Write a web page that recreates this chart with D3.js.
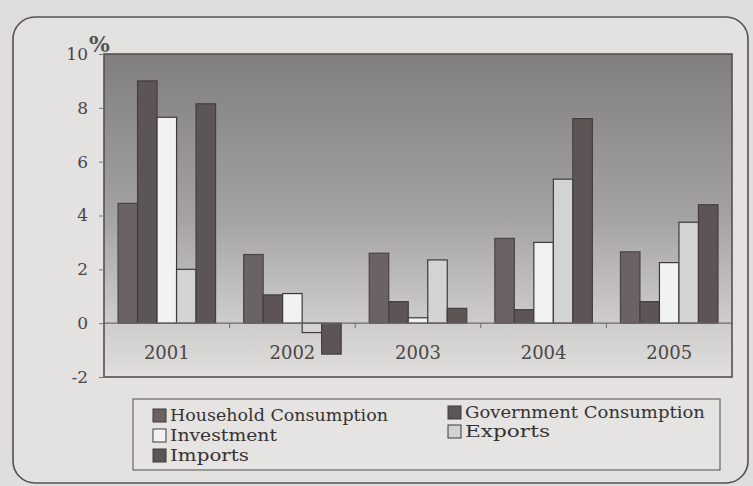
<!DOCTYPE html>
<html><head><meta charset="utf-8">
<script src="https://cdn.jsdelivr.net/npm/d3@7"></script>
<style>body{margin:0;background:#dfdedc;}svg{display:block;}</style>
</head><body>
<svg id="chart" width="753" height="486"></svg>
<script>
const years = ["2001","2002","2003","2004","2005"];
const seriesNames = ["Household Consumption","Government Consumption","Investment","Exports","Imports"];
const household  = [4.45, 2.55, 2.6, 3.15, 2.65];
const government = [9.0, 1.05, 0.8, 0.5, 0.8];
const investment = [7.65, 1.1, 0.2, 3.0, 2.25];
const exports_   = [2.0, -0.35, 2.35, 5.35, 3.75];
const imports_   = [8.15, -1.15, 0.55, 7.6, 4.4];
const yTicks = [-2, 0, 2, 4, 6, 8, 10];

const seriesValues = [household, government, investment, exports_, imports_];
const fills = ["#6b6264", "#5c5456", "#f2f2f2", "#d4d3d3", "#5d5456"];
const strokes = ["#4a4446", "#433d3f", "#3e3a3a", "#3e3a3a", "#433d3f"];

const svg = d3.select("#chart");
const font = "'DejaVu Serif', 'Liberation Serif', serif";

// outer rounded frame
svg.append("rect").attr("x", 13).attr("y", 17).attr("width", 735).attr("height", 466)
  .attr("rx", 22).attr("fill", "#e3e2e0").attr("stroke", "#555151").attr("stroke-width", 1.6);

const L = 104, R = 732, T = 54, B = 377;
const y = d3.scaleLinear().domain([-2, 10]).range([B, T]);
const x0 = d3.scaleBand().domain(years).range([L, R]).paddingInner(0).paddingOuter(0);
const x1 = d3.scaleBand().domain(seriesNames).range([0, x0.bandwidth()]).paddingInner(0).paddingOuter(0.72);

const defs = svg.append("defs");
const grad = defs.append("linearGradient").attr("id", "bg").attr("x1", 0).attr("y1", 0).attr("x2", 0).attr("y2", 1);
grad.append("stop").attr("offset", "0%").attr("stop-color", "#807e7e");
grad.append("stop").attr("offset", "50%").attr("stop-color", "#a3a1a1");
grad.append("stop").attr("offset", "80%").attr("stop-color", "#cac8c8");
grad.append("stop").attr("offset", "100%").attr("stop-color", "#e0dfdd");

svg.append("rect").attr("x", L).attr("y", T).attr("width", R - L).attr("height", B - T)
  .attr("fill", "url(#bg)");

// bars
const g = svg.append("g");
years.forEach((yr, i) => {
  seriesNames.forEach((s, j) => {
    const v = seriesValues[j][i];
    g.append("rect")
      .attr("x", x0(yr) + x1(s))
      .attr("y", y(Math.max(0, v)))
      .attr("width", x1.bandwidth())
      .attr("height", Math.abs(y(v) - y(0)))
      .attr("fill", fills[j]).attr("stroke", strokes[j]).attr("stroke-width", 1.2);
  });
});

// zero line
svg.append("line").attr("x1", L).attr("x2", R).attr("y1", y(0)).attr("y2", y(0))
  .attr("stroke", "#6d6a6a").attr("stroke-width", 1.2);
x0.domain().slice(1).forEach(d => {
  svg.append("line").attr("x1", x0(d)).attr("x2", x0(d)).attr("y1", y(0)).attr("y2", y(0) + 5)
    .attr("stroke", "#6d6a6a").attr("stroke-width", 1);
});

// plot border
svg.append("rect").attr("x", L).attr("y", T).attr("width", R - L).attr("height", B - T)
  .attr("fill", "none").attr("stroke", "#555151").attr("stroke-width", 1.6);

// y axis
const yAxis = d3.axisLeft(y).tickValues(yTicks).tickSize(5).tickPadding(11).tickFormat(d => String(d));
const ya = svg.append("g").attr("transform", `translate(${L},0)`).call(yAxis);
ya.select(".domain").remove();
ya.selectAll("line").attr("stroke", "#777");
ya.selectAll("text").attr("font-family", font).attr("font-size", 17).attr("fill", "#4a4646");

svg.append("text").attr("x", 89).attr("y", 52).attr("font-family", font)
  .attr("font-size", 22).attr("font-weight", "bold").attr("fill", "#555").text("%");

// x labels
const xAxis = d3.axisBottom(x0).tickSize(0).tickPadding(0);
const xa = svg.append("g").attr("transform", `translate(0,${y(0) + 36})`).call(xAxis);
xa.select(".domain").remove();
xa.selectAll("text").attr("font-family", font).attr("font-size", 18).attr("fill", "#4a4646").attr("dy", "0");

// legend
svg.append("rect").attr("x", 133).attr("y", 399).attr("width", 587).attr("height", 71)
  .attr("fill", "#e5e4e2").attr("stroke", "#6a6666").attr("stroke-width", 1.2);
const legPos = [[153, 421], [448, 418], [153, 441], [448, 437], [153, 461]];
const legW = [218, 240, 107, 85, 79];
seriesNames.forEach((s, j) => {
  const [lx, ly] = legPos[j];
  svg.append("rect").attr("x", lx).attr("y", ly - 12).attr("width", 13).attr("height", 13)
    .attr("fill", fills[j]).attr("stroke", "#3e3a3a").attr("stroke-width", 1);
  svg.append("text").attr("x", lx + 17).attr("y", ly).attr("font-family", font)
    .attr("font-size", 17).attr("fill", "#363232")
    .attr("textLength", legW[j]).attr("lengthAdjust", "spacingAndGlyphs").text(s);
});
</script>
</body></html>
